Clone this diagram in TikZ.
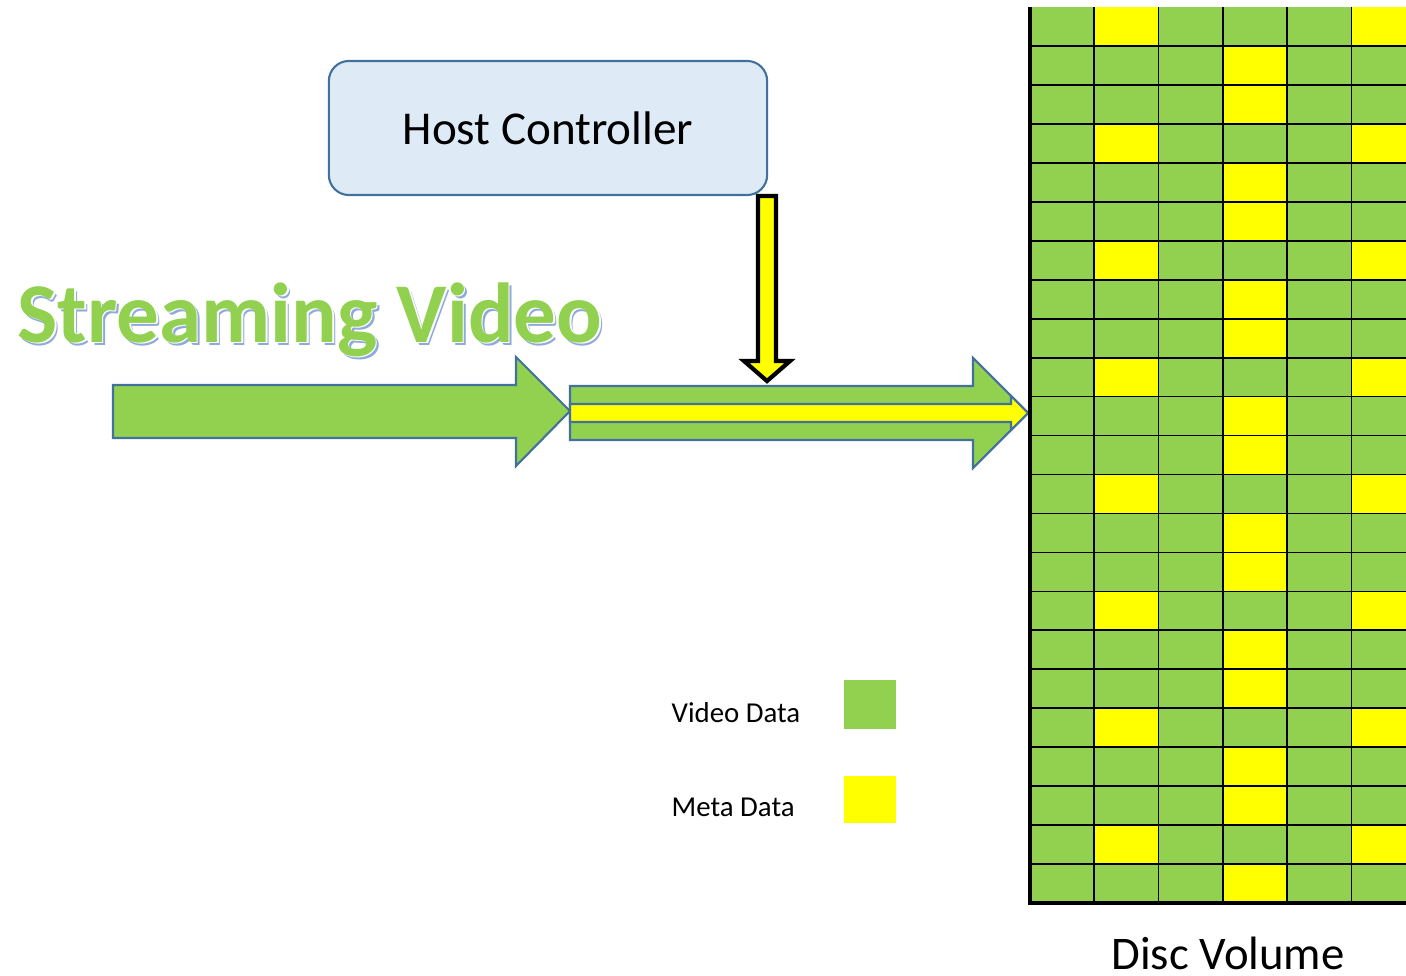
\documentclass[tikz,border=0pt]{standalone}
\usepackage{fontspec}
\setmainfont{Carlito}
\definecolor{videogreen}{RGB}{146,208,80}
\definecolor{metayellow}{RGB}{255,255,0}
\definecolor{shapeblue}{RGB}{65,113,156}
\definecolor{hostfill}{RGB}{222,235,247}
\definecolor{shadowblue}{RGB}{142,170,219}
\begin{document}
\begin{tikzpicture}[x=0.01cm, y=-0.01cm]
	\useasboundingbox (0,0) rectangle (1406,976);
	
	% host controller
	\node[draw=shapeblue, line width=0.6pt, fill=hostfill, rounded corners=0.2cm, minimum width=4.38cm, minimum height=1.34cm, font=\fontsize{13.4}{16}\selectfont] (host) at (548,128) {Host Controller};
	
	% title with outline and shadow
	\node[anchor=base, text=shadowblue, font=\fontsize{24.2}{29}\selectfont\bfseries] (streamshadow) at (313,345) {Streaming Video};
	\node[anchor=base, text=white, font=\fontsize{24.2}{29}\selectfont\bfseries] (streamwhite) at (311.5,343.5) {Streaming Video};
	\node[anchor=base, text=videogreen, font=\fontsize{24.2}{29}\selectfont\bfseries] (stream) at (310,342) {Streaming Video};
	
	% incoming stream
	\draw[shapeblue, line width=0.6pt, fill=videogreen] (113,385) -- (516,385) -- (516,357) -- (570,411) -- (516,466) -- (516,438) -- (113,438) -- cycle;
	
	% stream with meta data
	\draw[shapeblue, line width=0.6pt, fill=videogreen] (570,386) -- (973,386) -- (973,358) -- (1028,413) -- (973,468) -- (973,440) -- (570,440) -- cycle;
	\draw[shapeblue, line width=0.6pt, fill=metayellow] (570,404) -- (1011,404) -- (1011,396) -- (1028,413) -- (1011,430) -- (1011,422) -- (570,422) -- cycle;
	
	% meta data from host
	\draw[black, line width=1.2pt, fill=metayellow] (758,196) -- (776,196) -- (776,361) -- (790,361) -- (767,381) -- (744,361) -- (758,361) -- cycle;
	
	% disc volume
	\foreach \c in {0,...,5}
		\foreach \r in {0,...,22} {
			\pgfmathtruncatemacro{\m}{mod(\r,3)}
			\pgfmathtruncatemacro{\meta}{((\c==1)||(\c==5))*(\m==0) + (\c==3)*(\m>0)}
			\ifnum\meta=1 \def\cellcol{metayellow}\else\def\cellcol{videogreen}\fi
			\fill[\cellcol] (1030+64.3*\c,7+38.96*\r) rectangle ++(64.3,38.96);
		}
	\foreach \c in {1,...,5}
		\draw[line width=0.5pt] (1030+64.3*\c,7) -- (1030+64.3*\c,903);
	\foreach \r in {1,...,22}
		\draw[line width=0.5pt] (1030,7+38.96*\r) -- (1406,7+38.96*\r);
	\draw[line width=1pt] (1030,7) -- (1030,903) -- (1406,903);
	\node[anchor=base, inner sep=0pt, font=\fontsize{13.3}{16}\selectfont] (disc) at (1228,969) {Disc Volume};
	
	% legend
	\node[anchor=base west, font=\fontsize{8.2}{10}\selectfont, inner sep=0pt] (videolbl) at (671,722) {Video Data};
	\node[anchor=base west, font=\fontsize{8.2}{10}\selectfont, inner sep=0pt] (metalbl) at (671,816) {Meta Data};
	\fill[videogreen] (844,680) rectangle (896,729);
	\fill[metayellow] (844,776) rectangle (896,823);
\end{tikzpicture}
\end{document}
